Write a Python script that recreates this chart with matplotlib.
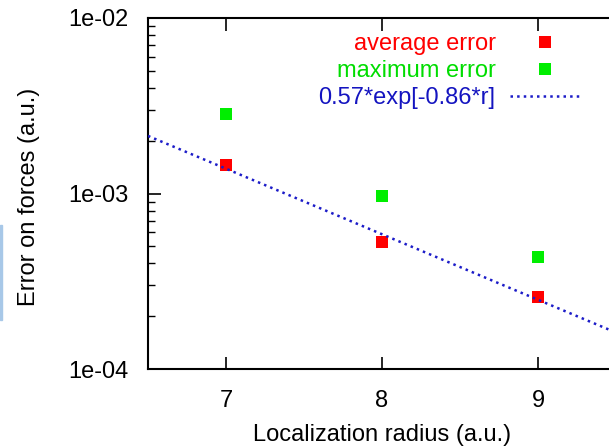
import numpy as np
import matplotlib
matplotlib.use("Agg")
from matplotlib import pyplot as plt
from matplotlib.ticker import LogLocator, NullFormatter, FixedLocator

plt.rcParams['font.family'] = ['Liberation Sans', 'DejaVu Sans']

# === data ===
radius = [7, 8, 9]
avg_error = [1.45e-3, 5.3e-4, 2.57e-4]
max_error = [2.84e-3, 9.7e-4, 4.35e-4]
fit_a = 0.57
fit_b = 0.86
fit_label = "0.57*exp[-0.86*r]"
y_ticklabels = ["1e-04", "1e-03", "1e-02"]

fig = plt.figure(figsize=(6.09, 4.47), dpi=100)
# axes: left spine at x=148, top at y=18, bottom at y=369; right part cut off by the image edge
W, H = 609, 447
ax = fig.add_axes([148 / W, 1 - 369 / H, (616 - 148) / W, (369 - 18) / H])

r_fit = np.linspace(6.5, 9.5, 200)
ax.plot(radius, avg_error, 's', color='#ff0000', markersize=8, markeredgewidth=0,
        label="average error", zorder=3)
ax.plot(radius, max_error, 's', color='#00ee00', markersize=8, markeredgewidth=0,
        label="maximum error", zorder=3)
ax.plot(r_fit, fit_a * np.exp(-fit_b * r_fit), ':', color='#1c1cc8', linewidth=1.8,
        label=fit_label, zorder=4)

ax.set_yscale('log')
ax.set_xlim(6.5, 9.5)
ax.set_ylim(1e-4, 1e-2)

ax.xaxis.set_major_locator(FixedLocator(radius))
ax.set_xticklabels([str(r) for r in radius])
ax.yaxis.set_major_locator(FixedLocator([1e-4, 1e-3, 1e-2]))
ax.set_yticklabels(y_ticklabels)
ax.yaxis.set_minor_locator(LogLocator(base=10, subs=np.arange(2, 10)))
ax.yaxis.set_minor_formatter(NullFormatter())

ax.tick_params(which='major', direction='in', length=9, width=1.2, labelsize=17,
               top=True, right=False)
ax.tick_params(axis='y', which='major', pad=14)
ax.tick_params(axis='x', which='major', pad=15)
ax.tick_params(which='minor', direction='in', length=5, width=1.0, right=False)
for s in ax.spines.values():
    s.set_linewidth(1.5)

ax.set_xlabel("Localization radius (a.u.)", fontsize=17, labelpad=9)
ax.set_ylabel("Error on forces (a.u.)", fontsize=17)
ax.yaxis.set_label_coords(-108 / (616 - 148), 0.49)

leg = ax.legend(loc='upper right', bbox_to_anchor=(590 / W, 1 - 24 / H),
                bbox_transform=fig.transFigure, frameon=False, markerfirst=False,
                fontsize=17, handlelength=3.0, handletextpad=0.6, labelspacing=0.2,
                borderaxespad=0)
for txt, col in zip(leg.get_texts(), ['#ff0000', '#00dd00', '#1414c0']):
    txt.set_color(col)

# light blue strip from the neighbouring figure at the left edge
fig.patches.append(plt.Rectangle((0, 1 - 320 / H), 2 / W, 95 / H,
                                 transform=fig.transFigure, color='#a8c8e8', zorder=0))

fig.savefig("out.png", dpi=100)
